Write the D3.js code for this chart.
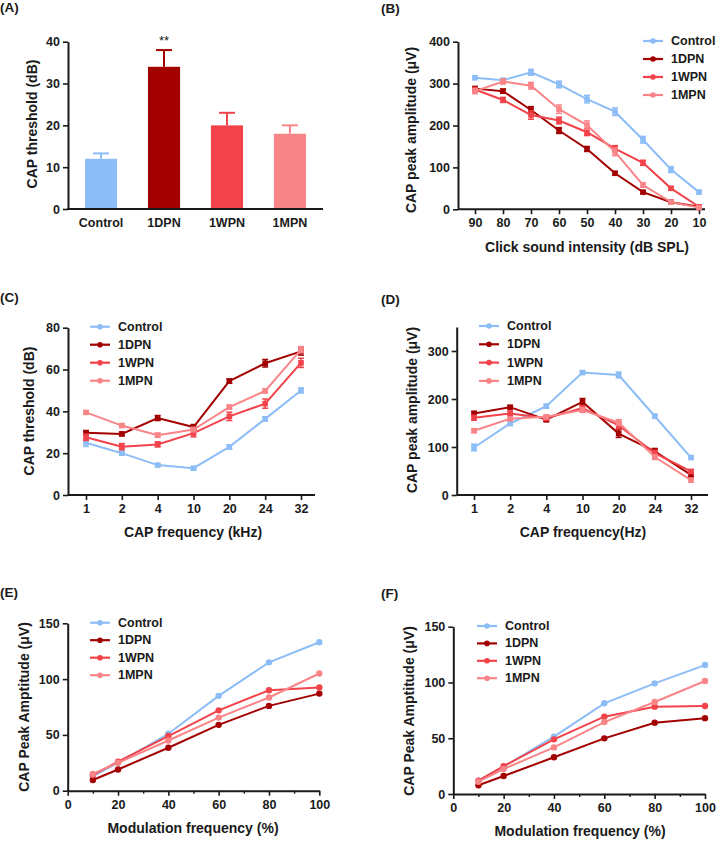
<!DOCTYPE html>
<html><head><meta charset="utf-8">
<script src="https://cdn.jsdelivr.net/npm/d3@7"></script>
<style>
body{margin:0;background:#fff}
svg text{font-family:"Liberation Sans",Arial,sans-serif;font-weight:bold;fill:#1a1a1a}
</style>
</head><body><svg id="c" width="720" height="843"></svg>
<script>
// ---------- DATA ----------
const groups = ["Control", "1DPN", "1WPN", "1MPN"];
const colors = ["#8dbdf7", "#a30000", "#f2424a", "#f98588"];

// (A) CAP threshold (dB)
const thrMean = [12, 34, 20, 18];
const thrErr = [1.3, 4, 3, 2];

// (B) click intensity vs amplitude
const intensity = ["90", "80", "70", "60", "50", "40", "30", "20", "10"];
const bControl = [314, 308, 327, 298, 263, 233, 166, 95, 41];
const b1DPN = [288, 282, 237, 188, 144, 86, 41, 17, 6];
const b1WPN = [286, 261, 225, 212, 184, 145, 111, 50, 6];
const b1MPN = [282, 305, 295, 239, 201, 137, 58, 17, 4];
const bErrControl = [4, 4, 7, 8, 9, 9, 8, 7, 4];
const bErr1DPN = [5, 5, 8, 7, 6, 4, 3, 3, 2];
const bErr1WPN = [4, 6, 10, 8, 8, 7, 6, 4, 2];
const bErr1MPN = [6, 6, 8, 10, 10, 9, 5, 3, 2];

// (C) CAP frequency vs threshold
const freqs = ["1", "2", "4", "10", "20", "24", "32"];
const cControl = [25, 20, 14.3, 12.8, 23, 36.4, 50];
const c1DPN = [29.8, 29.2, 36.8, 32.5, 54.5, 63, 68.7];
const c1WPN = [27.6, 23.1, 24.2, 29.6, 37.6, 43.7, 63.2];
const c1MPN = [39.5, 33.2, 28.6, 31.3, 42, 49.8, 69.5];
const cErrControl = [1.8, 0.8, 0.6, 0.6, 1, 1, 1.2];
const cErr1DPN = [1, 0.8, 1.2, 1.2, 1, 1.8, 1.8];
const cErr1WPN = [1.5, 1.5, 1.2, 1.8, 2, 2.2, 2.2];
const cErr1MPN = [0.8, 0.8, 1, 1, 1, 1, 1.5];

// (D) CAP frequency vs amplitude
const dControl = [99, 149, 185, 255, 250, 164, 78];
const d1DPN = [170, 183, 157, 194, 128, 91, 42];
const d1WPN = [161, 170, 160, 181, 145, 87, 49];
const d1MPN = [134, 159, 163, 177, 151, 79, 31];
const dErrControl = [7, 4, 4, 3, 6, 4, 3];
const dErr1DPN = [4, 3, 4, 7, 8, 6, 4];
const dErr1WPN = [5, 5, 4, 5, 7, 6, 4];
const dErr1MPN = [4, 4, 4, 5, 6, 5, 3];

// (E) modulation vs amplitude
const modulation = [10, 20, 40, 60, 80, 100];
const eControl = [13, 25, 51, 85, 115, 133];
const e1DPN = [9.6, 19, 38.5, 59, 76, 87];
const e1WPN = [14, 26, 49, 72, 90, 92.5];
const e1MPN = [15, 25, 45, 65.5, 83.5, 105];

// (F) modulation vs amplitude
const fControl = [12, 24.5, 51.4, 81.3, 99.2, 115.6];
const f1DPN = [7.8, 16.1, 32.9, 49.9, 63.9, 68];
const f1WPN = [12, 25, 49, 69.3, 78.3, 78.9];
const f1MPN = [11, 22.4, 41.8, 64.5, 82.5, 101.3];

// ---------- DRAWING ----------
const svg = d3.select("#c");
const TICK = 12.5, TITLE = 14;

function styleAxis(g) {
  g.selectAll("path.domain").attr("stroke", "#1a1a1a").attr("stroke-width", 2);
  g.selectAll(".tick line").attr("stroke", "#1a1a1a").attr("stroke-width", 1.6);
  g.selectAll(".tick text").style("font-size", TICK + "px").attr("fill", "#1a1a1a");
}

function panelLabel(txt, x, y) {
  svg.append("text").attr("x", x).attr("y", y).style("font-size", "13.5px").text(txt);
}

function yTitle(txt, x, y) {
  svg.append("text").attr("transform", `translate(${x},${y}) rotate(-90)`)
    .attr("text-anchor", "middle").attr("dominant-baseline", "middle")
    .style("font-size", TITLE + "px").text(txt);
}
function xTitle(txt, x, y) {
  svg.append("text").attr("x", x).attr("y", y).attr("text-anchor", "middle")
    .style("font-size", TITLE + "px").text(txt);
}

function legend(x, y, step, marker) {
  const g = svg.append("g");
  groups.forEach((name, i) => {
    const yy = y + i * step;
    g.append("line").attr("x1", x).attr("x2", x + 20).attr("y1", yy).attr("y2", yy)
      .attr("stroke", colors[i]).attr("stroke-width", 2.2);
    g.append("circle").attr("cx", x + 10).attr("cy", yy).attr("r", 2.8).attr("fill", colors[i]);
    g.append("text").attr("x", x + 28).attr("y", yy).attr("dominant-baseline", "central")
      .style("font-size", TICK + "px").text(name);
  });
}

// Line panel with categorical (point) x
function pointPanel(cfg) {
  const x = d3.scalePoint().domain(cfg.cats).range([cfg.px0, cfg.px1]);
  const y = d3.scaleLinear().domain(cfg.ydom).range([cfg.y0, cfg.y1]);
  const gy = svg.append("g").attr("transform", `translate(${cfg.ax},0)`)
    .call(d3.axisLeft(y).tickValues(cfg.yticks).tickSize(5).tickSizeOuter(0).tickPadding(3));
  styleAxis(gy);
  const gx = svg.append("g").attr("transform", `translate(0,${cfg.y0})`)
    .call(d3.axisBottom(x).tickSize(5).tickSizeOuter(0).tickPadding(4));
  gx.select("path.domain").remove();
  styleAxis(gx);
  svg.append("line").attr("x1", cfg.ax).attr("x2", cfg.axEnd).attr("y1", cfg.y0).attr("y2", cfg.y0)
    .attr("stroke", "#1a1a1a").attr("stroke-width", 2);
  const line = d3.line().x((d, i) => x(cfg.cats[i])).y(d => y(d));
  cfg.series.forEach((s, k) => {
    const c = colors[k];
    const g = svg.append("g");
    g.append("path").attr("d", line(s)).attr("fill", "none").attr("stroke", c).attr("stroke-width", 2);
    s.forEach((v, i) => {
      const cx = x(cfg.cats[i]);
      const e = cfg.errs[k][i];
      g.append("line").attr("x1", cx).attr("x2", cx).attr("y1", y(v - e)).attr("y2", y(v + e))
        .attr("stroke", c).attr("stroke-width", 1.5);
      [v - e, v + e].forEach(w => g.append("line").attr("x1", cx - 3).attr("x2", cx + 3)
        .attr("y1", y(w)).attr("y2", y(w)).attr("stroke", c).attr("stroke-width", 1.5));
      g.append("rect").attr("x", cx - 2.8).attr("y", y(v) - 2.8).attr("width", 5.6).attr("height", 5.6).attr("fill", c);
    });
  });
}

// Line panel with linear x
function linPanel(cfg) {
  const x = d3.scaleLinear().domain([0, 100]).range([cfg.ax, cfg.axEnd]);
  const y = d3.scaleLinear().domain([0, 150]).range([cfg.y0, cfg.y1]);
  const gy = svg.append("g").attr("transform", `translate(${cfg.ax},0)`)
    .call(d3.axisLeft(y).tickValues([0, 50, 100, 150]).tickSize(5).tickSizeOuter(0).tickPadding(3));
  styleAxis(gy);
  const gx = svg.append("g").attr("transform", `translate(0,${cfg.y0})`)
    .call(d3.axisBottom(x).tickValues([0, 20, 40, 60, 80, 100]).tickSize(5).tickSizeOuter(0).tickPadding(4));
  styleAxis(gx);
  svg.append("g").attr("transform", `translate(0,${cfg.y0})`)
    .call(d3.axisBottom(x).tickValues([10, 30, 50, 70, 90]).tickSize(3).tickSizeOuter(0).tickFormat(""))
    .call(g => { g.select("path.domain").remove(); g.selectAll(".tick line").attr("stroke", "#1a1a1a").attr("stroke-width", 1.4); });
  const line = d3.line().x((d, i) => x(modulation[i])).y(d => y(d));
  cfg.series.forEach((s, k) => {
    const c = colors[k];
    svg.append("path").attr("d", line(s)).attr("fill", "none").attr("stroke", c).attr("stroke-width", 2);
    svg.append("g").selectAll("circle").data(s).join("circle")
      .attr("cx", (d, i) => x(modulation[i])).attr("cy", d => y(d)).attr("r", 3.2).attr("fill", c);
  });
}

// ----- (A) -----
panelLabel("(A)", 0, 12);
{
  const x = d3.scaleBand().domain(groups).range([68, 323]).paddingInner(0.49).paddingOuter(0.27);
  const y = d3.scaleLinear().domain([0, 40]).range([209, 41.7]);
  thrMean.forEach((v, i) => {
    const cx = x(groups[i]) + x.bandwidth() / 2;
    svg.append("line").attr("x1", cx).attr("x2", cx).attr("y1", y(v)).attr("y2", y(v + thrErr[i]))
      .attr("stroke", colors[i]).attr("stroke-width", 2);
    svg.append("line").attr("x1", cx - 8).attr("x2", cx + 8).attr("y1", y(v + thrErr[i])).attr("y2", y(v + thrErr[i]))
      .attr("stroke", colors[i]).attr("stroke-width", 2);
  });
  svg.append("g").selectAll("rect").data(thrMean).join("rect")
    .attr("x", (d, i) => x(groups[i])).attr("width", x.bandwidth())
    .attr("y", d => y(d)).attr("height", d => y(0) - y(d))
    .attr("fill", (d, i) => colors[i]);
  const gy = svg.append("g").attr("transform", "translate(68,0)")
    .call(d3.axisLeft(y).tickValues([0, 10, 20, 30, 40]).tickSize(5).tickSizeOuter(0).tickPadding(3));
  styleAxis(gy);
  const gx = svg.append("g").attr("transform", "translate(0,209)")
    .call(d3.axisBottom(x).tickSize(0).tickSizeOuter(0).tickPadding(9));
  gx.select("path.domain").remove();
  styleAxis(gx);
  svg.append("line").attr("x1", 67).attr("x2", 323).attr("y1", 209).attr("y2", 209)
    .attr("stroke", "#1a1a1a").attr("stroke-width", 2);
  const cx1 = x("1DPN") + x.bandwidth() / 2;
  svg.append("text").attr("x", cx1).attr("y", y(38) - 5).attr("text-anchor", "middle")
    .style("font-size", "13px").style("font-weight", "normal").text("**");
  yTitle("CAP threshold (dB)", 33, 124);
}

// ----- (B) -----
panelLabel("(B)", 381, 13);
pointPanel({
  cats: intensity, px0: 475, px1: 699, ax: 458, axEnd: 705,
  ydom: [0, 400], y0: 209.3, y1: 41.7, yticks: [0, 100, 200, 300, 400],
  series: [bControl, b1DPN, b1WPN, b1MPN],
  errs: [bErrControl, bErr1DPN, bErr1WPN, bErr1MPN]
});
legend(643, 41, 18);
yTitle("CAP peak amplitude (\u03bcV)", 412, 130);
xTitle("Click sound intensity (dB SPL)", 587, 252);

// ----- (C) -----
panelLabel("(C)", 0, 302);
pointPanel({
  cats: freqs, px0: 86, px1: 301, ax: 68, axEnd: 315,
  ydom: [0, 80], y0: 495, y1: 327.7, yticks: [0, 20, 40, 60, 80],
  series: [cControl, c1DPN, c1WPN, c1MPN],
  errs: [cErrControl, cErr1DPN, cErr1WPN, cErr1MPN]
});
legend(90, 326.7, 18);
yTitle("CAP threshold (dB)", 30, 411);
xTitle("CAP frequency (kHz)", 193, 537);

// ----- (D) -----
panelLabel("(D)", 381, 304);
pointPanel({
  cats: freqs, px0: 474, px1: 691, ax: 456.7, axEnd: 708,
  ydom: [0, 350], y0: 495, y1: 327, yticks: [0, 100, 200, 300],
  series: [dControl, d1DPN, d1WPN, d1MPN],
  errs: [dErrControl, dErr1DPN, dErr1WPN, dErr1MPN]
});
legend(479, 326, 18.3);
yTitle("CAP peak amplitude (\u03bcV)", 413, 410);
xTitle("CAP frequency(Hz)", 583, 537);

// ----- (E) -----
panelLabel("(E)", 0, 597);
linPanel({ ax: 67.7, axEnd: 319.3, y0: 790.7, y1: 623.3, series: [eControl, e1DPN, e1WPN, e1MPN] });
legend(90, 622.7, 17.5);
yTitle("CAP Peak Amptitude (\u03bcV)", 25, 707);
xTitle("Modulation frequency (%)", 193, 833);

// ----- (F) -----
panelLabel("(F)", 381, 598);
linPanel({ ax: 453.3, axEnd: 705, y0: 794, y1: 626.7, series: [fControl, f1DPN, f1WPN, f1MPN] });
legend(477, 626, 17.4);
yTitle("CAP Peak Amptitude (\u03bcV)", 410, 711);
xTitle("Modulation frequency (%)", 580, 836);
</script>
</body></html>
